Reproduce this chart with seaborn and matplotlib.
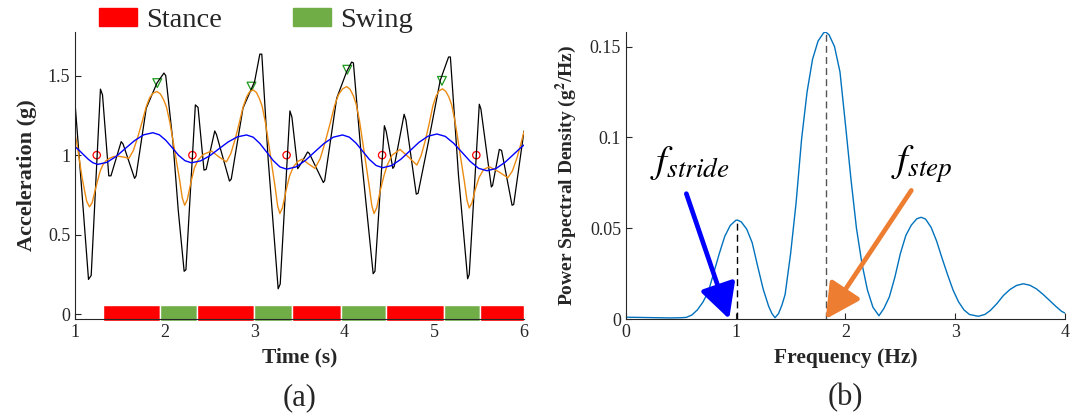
import matplotlib
matplotlib.use('Agg')
import matplotlib.pyplot as plt
from matplotlib.patches import Patch
import seaborn as sns

# raw vertical acceleration (g)
raw_time = [1.00, 1.075, 1.15, 1.18, 1.283, 1.306, 1.376, 1.40, 1.514, 1.535, 1.663, 1.68,
            1.793, 1.912, 1.99, 2.01, 2.09, 2.15, 2.215, 2.235, 2.34, 2.37, 2.436, 2.46,
            2.556, 2.575, 2.72, 2.74, 2.87, 3.00, 3.058, 3.08, 3.15, 3.262, 3.285, 3.393,
            3.415, 3.48, 3.52, 3.59, 3.61, 3.765, 3.78, 3.914, 4.026, 4.08, 4.10, 4.19,
            4.32, 4.34, 4.445, 4.465, 4.539, 4.555, 4.665, 4.685, 4.80, 4.82, 4.936,
            5.067, 5.16, 5.18, 5.27, 5.372, 5.39, 5.502, 5.52, 5.636, 5.65, 5.725, 5.75,
            5.867, 5.885, 6.00]
raw_acc = [1.327, 0.78, 0.219, 0.244, 1.415, 1.379, 0.870, 0.870, 1.085, 1.07, 0.854, 0.87,
           1.295, 1.453, 1.516, 1.50, 1.085, 0.65, 0.27, 0.28, 1.316, 1.30, 0.906, 0.91,
           1.152, 1.13, 0.837, 0.85, 1.295, 1.463, 1.635, 1.635, 0.98, 0.16, 0.19, 1.278,
           1.24, 0.915, 0.95, 1.02, 1.01, 0.828, 0.84, 1.358, 1.526, 1.585, 1.58, 0.98,
           0.255, 0.27, 1.185, 1.15, 0.917, 0.93, 1.257, 1.22, 0.755, 0.76, 1.085,
           1.47, 1.617, 1.617, 0.875, 0.223, 0.25, 1.32, 1.29, 0.80, 0.81, 1.036, 1.03,
           0.685, 0.69, 1.152]

# step-band filtered signal
step_time = [1.000, 1.025, 1.049, 1.075, 1.105, 1.13, 1.161, 1.19, 1.22, 1.253, 1.28, 1.309,
             1.345, 1.384, 1.43, 1.477, 1.54, 1.60, 1.65, 1.70, 1.75, 1.793, 1.83, 1.87,
             1.912, 1.95, 1.985, 2.017, 2.055, 2.09, 2.13, 2.165, 2.195, 2.221, 2.25, 2.296,
             2.33, 2.37, 2.43, 2.52, 2.60, 2.686, 2.735, 2.783, 2.83, 2.87, 2.91, 2.945,
             2.983, 3.02, 3.053, 3.084, 3.121, 3.155, 3.193, 3.227, 3.256, 3.281, 3.31, 3.355,
             3.39, 3.43, 3.48, 3.53, 3.60, 3.672, 3.73, 3.786, 3.843, 3.892, 3.934, 3.98,
             4.026, 4.063, 4.098, 4.129, 4.167, 4.201, 4.241, 4.275, 4.305, 4.33, 4.36, 4.40,
             4.44, 4.475, 4.53, 4.62, 4.71, 4.807, 4.853, 4.90, 4.945, 4.985, 5.02, 5.055,
             5.093, 5.13, 5.163, 5.194, 5.23, 5.264, 5.302, 5.336, 5.365, 5.39, 5.42, 5.46,
             5.50, 5.55, 5.614, 5.72, 5.82, 5.87, 5.92, 5.96, 6.00]
step_acc = [1.131, 1.06, 0.969, 0.87, 0.78, 0.71, 0.675, 0.70, 0.77, 0.843, 0.90, 0.938,
            0.965, 0.980, 0.991, 0.994, 0.988, 0.980, 1.03, 1.116, 1.215, 1.305, 1.36, 1.39,
            1.40, 1.385, 1.35, 1.305, 1.21, 1.095, 0.96, 0.843, 0.73, 0.685, 0.72, 0.843,
            0.92, 0.969, 1.005, 1.026, 0.99, 0.958, 1.01, 1.10, 1.205, 1.30, 1.365, 1.40,
            1.41, 1.394, 1.356, 1.307, 1.203, 1.078, 0.932, 0.805, 0.682, 0.633, 0.67, 0.79,
            0.87, 0.925, 0.96, 0.975, 0.945, 0.917, 0.978, 1.083, 1.204, 1.314, 1.38, 1.417,
            1.431, 1.414, 1.375, 1.325, 1.219, 1.091, 0.94, 0.809, 0.683, 0.633, 0.67, 0.78,
            0.87, 0.935, 1.00, 1.036, 0.99, 0.938, 0.995, 1.09, 1.20, 1.31, 1.37, 1.405,
            1.417, 1.40, 1.365, 1.317, 1.217, 1.097, 0.956, 0.834, 0.716, 0.668, 0.70, 0.79,
            0.86, 0.91, 0.927, 0.895, 0.858, 0.90, 0.98, 1.06, 1.148]

# stride-band filtered signal
stride_time = [1.00, 1.05, 1.10, 1.15, 1.20, 1.253, 1.355, 1.458, 1.560, 1.662, 1.765, 1.867,
               1.939, 2.010, 2.082, 2.153, 2.225, 2.296, 2.398, 2.501, 2.603, 2.705, 2.808,
               2.91, 2.984, 3.059, 3.133, 3.207, 3.282, 3.356, 3.460, 3.564, 3.668, 3.772,
               3.876, 3.98, 4.055, 4.129, 4.204, 4.278, 4.353, 4.427, 4.528, 4.628, 4.729,
               4.829, 4.930, 5.03, 5.123, 5.216, 5.309, 5.402, 5.495, 5.588, 5.688, 5.788,
               5.888, 5.95, 6.00]
stride_acc = [1.053, 1.028, 1.000, 0.973, 0.952, 0.942, 0.955, 0.992, 1.042, 1.091, 1.128, 1.141,
              1.128, 1.094, 1.047, 0.999, 0.965, 0.952, 0.964, 0.996, 1.040, 1.083, 1.115,
              1.127, 1.113, 1.073, 1.020, 0.966, 0.926, 0.912, 0.926, 0.966, 1.020, 1.073,
              1.113, 1.127, 1.113, 1.076, 1.024, 0.973, 0.935, 0.921, 0.935, 0.974, 1.027,
              1.080, 1.119, 1.133, 1.118, 1.075, 1.018, 0.960, 0.917, 0.902, 0.916, 0.955,
              1.007, 1.040, 1.064]

# detected events
heel_time = [1.242, 2.307, 3.356, 4.42, 5.469]
heel_acc = [1.0, 1.0, 1.0, 1.0, 1.0]
toe_time = [1.916, 2.965, 4.032, 5.086]
toe_acc = [1.453, 1.431, 1.537, 1.467]

# gait phases
phase_start = [1.309, 1.942, 2.358, 2.994, 3.412, 3.962, 4.461, 5.104, 5.513]
phase_end = [1.942, 2.358, 2.994, 3.412, 3.962, 4.461, 5.104, 5.513, 6.0]
phase_name = ['Stance', 'Swing', 'Stance', 'Swing', 'Stance', 'Swing', 'Stance', 'Swing', 'Stance']

# power spectral density
freq = [0.00, 0.10, 0.20, 0.30, 0.40, 0.50, 0.55, 0.60, 0.65, 0.70, 0.75, 0.80, 0.85, 0.90,
        0.95, 1.00, 1.015, 1.05, 1.10, 1.15, 1.20, 1.25, 1.30, 1.33, 1.358, 1.39, 1.42, 1.45,
        1.50, 1.55, 1.60, 1.65, 1.70, 1.75, 1.80, 1.82, 1.85, 1.90, 1.95, 2.00, 2.05, 2.10,
        2.15, 2.20, 2.25, 2.305, 2.35, 2.40, 2.45, 2.50, 2.55, 2.60, 2.65, 2.69, 2.73, 2.78,
        2.83, 2.88, 2.93, 2.98, 3.03, 3.08, 3.13, 3.21, 3.27, 3.32, 3.38, 3.44, 3.50, 3.56,
        3.62, 3.68, 3.74, 3.80, 3.86, 3.92, 3.97, 4.00]
psd = [0.0010, 0.0009, 0.0008, 0.0007, 0.0006, 0.0007, 0.0009, 0.0022, 0.0050, 0.0092, 0.0150,
       0.0255, 0.0360, 0.0455, 0.0515, 0.0543, 0.0545, 0.0535, 0.0495, 0.0420, 0.0290, 0.0165,
       0.0070, 0.0030, 0.0007, 0.0030, 0.0075, 0.0135, 0.0360, 0.0640, 0.0990, 0.1250, 0.1430,
       0.1530, 0.1575, 0.1580, 0.1565, 0.1500, 0.1360, 0.1070, 0.0770, 0.0500, 0.0305, 0.0160,
       0.0065, 0.0018, 0.0058, 0.0122, 0.0230, 0.0360, 0.0460, 0.0517, 0.0552, 0.0560, 0.0550,
       0.0505, 0.0430, 0.0335, 0.0245, 0.0160, 0.0095, 0.0050, 0.0025, 0.0015, 0.0025, 0.0047,
       0.0085, 0.0130, 0.0163, 0.0185, 0.0194, 0.0186, 0.0166, 0.0136, 0.0102, 0.0068, 0.0042,
       0.0033]
stride_freq = 1.015
step_freq = 1.82

phase_colors = {'Stance': '#FF0000', 'Swing': '#70AD47'}
ink = '#262626'

sns.set_theme(style='ticks')
plt.rcParams['font.family'] = ['Liberation Serif', 'DejaVu Sans']
plt.rcParams['mathtext.fontset'] = 'stix'
plt.rcParams['axes.edgecolor'] = ink
plt.rcParams['xtick.color'] = ink
plt.rcParams['ytick.color'] = ink
plt.rcParams['axes.labelcolor'] = ink

fig = plt.figure(figsize=(10.78, 4.18), dpi=100)
ax1 = fig.add_axes([0.0696, 0.2368, 0.4165, 0.6866])
ax2 = fig.add_axes([0.5807, 0.2368, 0.4072, 0.6866])

# (a) acceleration
sns.lineplot(x=raw_time, y=raw_acc, ax=ax1, color='black', lw=0.9, estimator=None)
sns.lineplot(x=step_time, y=step_acc, ax=ax1, color='#EC8B12', lw=1.0, estimator=None)
sns.lineplot(x=stride_time, y=stride_acc, ax=ax1, color='#0000FF', lw=1.0, estimator=None)
sns.scatterplot(x=heel_time, y=heel_acc, ax=ax1, marker='o', s=28, linewidth=0.9)
ax1.collections[-1].set_facecolor('none')
ax1.collections[-1].set_edgecolor('#FF0000')
sns.scatterplot(x=toe_time, y=toe_acc, ax=ax1, marker='v', s=40, linewidth=0.9)
ax1.collections[-1].set_facecolor('none')
ax1.collections[-1].set_edgecolor('#1E9A1E')

for s, e, name in zip(phase_start, phase_end, phase_name):
    ax1.broken_barh([(s, e - s)], (-0.04, 0.10), facecolor=phase_colors[name], clip_on=False)

ax1.set_xlim(1, 6)
ax1.set_ylim(-0.03, 1.774)
ax1.set_xticks([1, 2, 3, 4, 5, 6])
ax1.set_yticks([0, 0.5, 1, 1.5])
ax1.set_yticklabels(['0', '0.5', '1', '1.5'])
ax1.set_xlabel('Time (s)', fontsize=15.5, fontweight='bold', labelpad=5)
ax1.set_ylabel('Acceleration (g)', fontsize=16, fontweight='bold', labelpad=8)

fig.legend(handles=[Patch(color=phase_colors['Stance'], label='Stance'),
                    Patch(color=phase_colors['Swing'], label='Swing')],
           loc='center left', bbox_to_anchor=(0.0918, 0.95), ncol=2, frameon=False,
           fontsize=20.5, handlelength=1.35, handleheight=0.6, handletextpad=0.3,
           columnspacing=2.5, borderpad=0, borderaxespad=0)

# (b) spectrum
sns.lineplot(x=freq, y=psd, ax=ax2, color='#0072BD', lw=1.0, estimator=None)
ax2.plot([stride_freq, stride_freq], [0, psd[freq.index(stride_freq)]], color='black', lw=1.0,
         ls=(0, (5, 3)))
ax2.plot([step_freq, step_freq], [0, psd[freq.index(step_freq)]], color='#555555', lw=1.0,
         ls=(0, (5, 3)))

arrow_style = '-|>,head_length=1.05,head_width=0.55'
ax2.annotate('', xy=(0.94, 0.0), xytext=(0.55, 0.069),
             arrowprops=dict(arrowstyle=arrow_style, color='#0000FF', lw=3.4,
                             mutation_scale=20, shrinkA=0, shrinkB=0))
ax2.annotate('', xy=(step_freq, 0.0), xytext=(2.60, 0.0708),
             arrowprops=dict(arrowstyle=arrow_style, color='#ED7D31', lw=3.4,
                             mutation_scale=20, shrinkA=0, shrinkB=0))
ax2.text(0.58, 0.086, r'$f_{stride}$', fontsize=28, ha='center', va='center', color='black')
ax2.text(2.70, 0.085, r'$f_{step}$', fontsize=28, ha='center', va='center', color='black')

ax2.set_xlim(0, 4)
ax2.set_ylim(0, 0.158)
ax2.set_xticks([0, 1, 2, 3, 4])
ax2.set_yticks([0, 0.05, 0.1, 0.15])
ax2.set_yticklabels(['0', '0.05', '0.1', '0.15'])
ax2.set_xlabel('Frequency (Hz)', fontsize=15.5, fontweight='bold', labelpad=5)
ax2.set_ylabel('Power Spectral Density (g$^\\mathbf{2}$/Hz)', fontsize=14, fontweight='bold', labelpad=8)

for ax in (ax1, ax2):
    sns.despine(ax=ax)
    ax.tick_params(direction='in', labelsize=13, length=4, width=0.8)
    for sp in ax.spines.values():
        sp.set_linewidth(0.8)

fig.text(0.278, 0.048, '(a)', fontsize=22, ha='center', va='center')
fig.text(0.784, 0.048, '(b)', fontsize=22, ha='center', va='center')

fig.savefig('out.png', dpi=100)
